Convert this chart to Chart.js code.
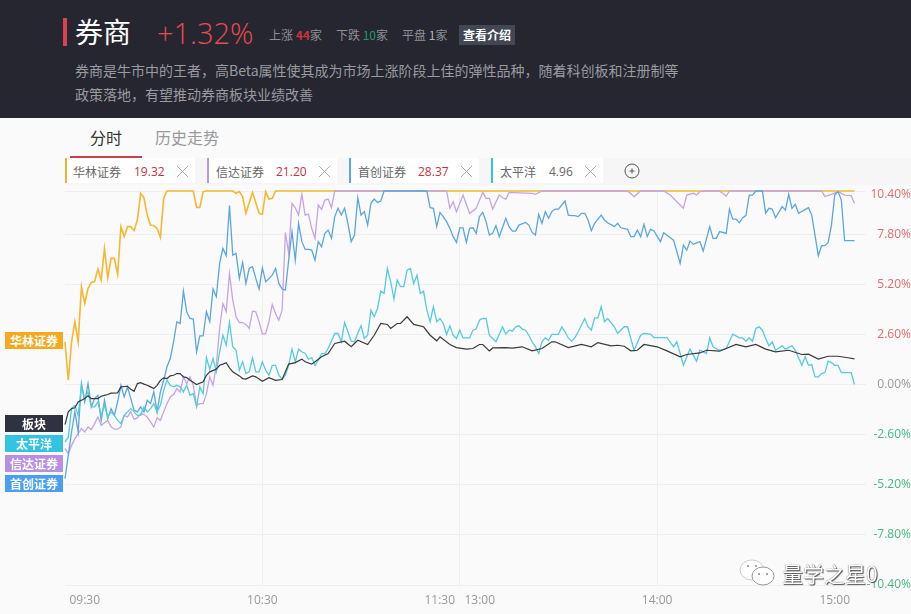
<!DOCTYPE html>
<html>
<head>
<meta charset="utf-8">
<script src="https://cdn.jsdelivr.net/npm/chart.js@4/dist/chart.umd.min.js"></script>
<style>
  html, body { margin: 0; padding: 0; }
  body { width: 911px; height: 614px; overflow: hidden; position: relative; background: #fafafa; font-family: "Noto Sans CJK SC", "Noto Sans", sans-serif; }
  .abs { position: absolute; white-space: nowrap; }
  #head { left: 0; top: 0; width: 911px; height: 118px; background: #252630; }
  #chart { position: absolute; left: 0; top: 0; }
  .tag { position: absolute; top: 158px; height: 25px; line-height: 27px; background: #fff; box-sizing: border-box; border-left: 2px solid; font-size: 12px; color: #666; white-space: nowrap; }
  .tag b { position: absolute; top: 0; font-weight: normal; color: #c9303e; font-family: "Open Sans"; }
  .tag svg { position: absolute; top: 7px; }
  .side { position: absolute; left: 5px; width: 58px; height: 17px; line-height: 17px; text-align: center; color: #fff; font-size: 12px; font-weight: 700; }
</style>
</head>
<body>
<div class="abs" id="head"></div>
<div class="abs" style="left:63px;top:18px;width:4px;height:28px;background:#d9434f"></div>
<div class="abs" style="left:75px;top:10px;font-size:28px;line-height:42px;color:#fff">券商</div>
<div class="abs" style="left:157px;top:12px;font-size:29px;line-height:42px;color:#ea4a50;font-family:'Open Sans';font-weight:300">+1.32%</div>
<div class="abs" style="left:269px;top:26px;font-size:12px;line-height:18px;color:#8f8f96">上涨 <span style="color:#d0303c;font-weight:700">44</span>家</div>
<div class="abs" style="left:336px;top:26px;font-size:12px;line-height:18px;color:#8f8f96">下跌 <span style="color:#1f9a66">10</span>家</div>
<div class="abs" style="left:402px;top:26px;font-size:12px;line-height:18px;color:#8f8f96">平盘 <span style="color:#b5b5b5">1</span>家</div>
<div class="abs" style="left:459px;top:25px;width:56px;height:20px;line-height:20px;text-align:center;background:#434654;color:#fff;font-size:12px;font-weight:700">查看介绍</div>
<div class="abs" style="left:75px;top:58px;font-size:14px;line-height:24px;color:#9a9a9f">券商是牛市中的王者，高Beta属性使其成为市场上涨阶段上佳的弹性品种，随着科创板和注册制等<br>政策落地，有望推动券商板块业绩改善</div>

<div class="abs" style="left:90px;top:125px;font-size:16px;line-height:24px;color:#333">分时</div>
<div class="abs" style="left:155px;top:125px;font-size:16px;line-height:24px;color:#999">历史走势</div>
<div class="abs" style="left:70px;top:156px;width:72px;height:2px;background:#c9404c"></div>
<div class="abs" style="left:65px;top:158px;width:846px;height:27px;background:#f6f6f6"></div>

<div class="tag" style="left:65px;width:130px;border-color:#f0b429"><span style="margin-left:6px">华林证券</span><b style="left:67px">19.32</b><svg style="left:109px" width="13" height="13"><path d="M1 1L12 12M12 1L1 12" stroke="#aaa" fill="none"/></svg></div>
<div class="tag" style="left:207px;width:130px;border-color:#b99ad8"><span style="margin-left:7px">信达证券</span><b style="left:67px">21.20</b><svg style="left:109px" width="13" height="13"><path d="M1 1L12 12M12 1L1 12" stroke="#aaa" fill="none"/></svg></div>
<div class="tag" style="left:349px;width:130px;border-color:#5aa7e0"><span style="margin-left:7px">首创证券</span><b style="left:67px">28.37</b><svg style="left:109px" width="13" height="13"><path d="M1 1L12 12M12 1L1 12" stroke="#aaa" fill="none"/></svg></div>
<div class="tag" style="left:491px;width:112px;border-color:#35c3dc"><span style="margin-left:7px">太平洋</span><b style="left:56px;color:#666">4.96</b><svg style="left:91px" width="13" height="13"><path d="M1 1L12 12M12 1L1 12" stroke="#aaa" fill="none"/></svg></div>
<svg class="abs" style="left:624px;top:163px" width="16" height="16"><circle cx="8" cy="8" r="7" fill="none" stroke="#555"/><path d="M5.5 8H10.5M8 5.5V10.5" stroke="#555"/></svg>

<canvas id="chart" width="911" height="614"></canvas>

<div class="side" style="top:332px;background:#f5a91f">华林证券</div>
<div class="side" style="top:415px;background:#2f3241">板块</div>
<div class="side" style="top:435px;background:#34c3e0">太平洋</div>
<div class="side" style="top:455px;background:#b88fe3">信达证券</div>
<div class="side" style="top:475px;background:#4b9ff0">首创证券</div>

<svg class="abs" style="left:739px;top:558px" width="38" height="30">
  <ellipse cx="13" cy="12" rx="12" ry="10" fill="#fff" stroke="#ccc"/>
  <ellipse cx="24" cy="18" rx="11" ry="9" fill="#fff" stroke="#999"/>
  <circle cx="9" cy="8" r="1" fill="#888"/><circle cx="17" cy="8" r="1" fill="#888"/>
  <circle cx="20" cy="16" r="1" fill="#888"/><circle cx="28" cy="16" r="1" fill="#888"/>
</svg>
<div class="abs" style="left:782px;top:558px;font-size:21px;line-height:30px;color:#fff;text-shadow:0 0 1px #333,1px 1px 1px #555">量学之星0</div>

<script>
// minutes since 09:30 (lunch break removed), values in percent
const xTickValues = [6, 60, 120, 180, 234];
const xTickLabels = ["09:30", "10:30", "11:30   13:00", "14:00", "15:00"];
const yTickValues = [10.06, 9.9, 7.8, 5.2, 2.6, 0, -2.6, -5.2, -7.8, -10.4];
const yTickLabels = ["", "10.40%", "7.80%", "5.20%", "2.60%", "0.00%", "-2.60%", "-5.20%", "-7.80%", "-10.40%"];

const huaTimes = [0,1,2,3,4,5,6,7,8,9,10,11,12,13,14,15,16,17,18,19,20,21,22,23,24,25,26,27,28,29,30,31,39,40,41,42,43,51,52,53,54,55,57,59,60,61,62,63,64,240];
const huaValues = [2.23,0.23,2.23,3.27,2.23,5.09,4.22,5,5.31,5.35,6,5.43,7.08,5.55,6.56,6.56,5.73,8.21,7.69,8.21,8.21,8,8.55,9.94,9.71,8.81,8.29,8.26,8.12,7.65,9.68,10.06,10.06,9.21,9.21,10.03,10.06,10.06,9.94,10.03,9.77,8.9,9.99,8.9,8.85,10.03,9.64,9.68,10.06,10.06];

const xinTimes = [0,1,2,3,4,5,6,7,8,9,10,11,12,13,14,15,16,17,18,19,20,21,22,23,24,25,26,27,28,29,30,31,32,33,34,35,36,37,38,39,40,41,42,43,44,45,46,47,48,49,50,51,52,53,54,55,56,57,58,59,60,61,62,63,64,65,66,67,68,69,70,71,72,73,74,75,76,77,78,79,80,81,82,116,117,118,119,121,123,125,127,128,129,130,132,133,134,135,142,143,145,171,173,175,182,184,186,188,189,191,192,193,195,199,201,202,230,231,233,235,237,239,240];
const xinValues = [-3.32,-3.58,-3.15,-2.8,-2.54,-2.28,-2.45,-2.19,-2.33,-2.02,-1.67,-2.11,-1.97,-1.85,-2.19,-2.31,-2.31,-2.19,-1.59,-1.67,-1.41,-1.79,-1.72,-1.5,-1.55,-1.67,-1.93,-2.19,-1.72,-1.85,-1.41,-0.98,-0.63,-0.51,-0.2,-0.37,0.41,0.06,0.41,-0.03,-1.07,-0.98,-0.98,-0.46,0.41,-0.03,1.01,2.92,4.22,3.79,5.78,4.39,3.53,3.23,3.23,3.13,2.92,3.82,3.79,3.27,2.63,2.66,3.27,4.17,3.7,3.35,3.87,7.91,6.82,9.42,9.19,8.81,9.89,8.81,8.86,8.12,7.6,9.33,9.11,9.59,9.64,9.19,10.06,10.06,9.16,9.5,8.98,9.85,8.9,9.16,9.99,9.68,9.68,9.12,9.85,9.71,9.64,9.99,9.94,9.89,10.06,10.06,9.77,10.06,10.06,9.85,9.5,9.16,9.85,9.94,9.85,10.03,10.06,10.06,9.8,10.06,10.06,9.77,9.89,10.03,9.85,9.82,9.42];

const shouTimes = [0,1,2,3,4,5,6,7,8,9,10,11,12,13,14,15,16,17,18,19,20,21,22,23,24,25,26,27,28,29,30,31,32,33,34,35,36,37,38,39,40,41,42,43,44,45,46,47,48,49,50,51,52,53,54,55,56,57,58,59,60,61,62,63,64,65,66,67,68,69,70,71,72,73,74,75,76,77,78,79,80,81,82,83,84,85,86,87,88,89,90,91,92,93,94,95,96,97,110,111,112,113,114,115,116,117,118,119,120,121,122,123,124,125,126,127,128,129,130,131,132,134,135,136,137,138,140,141,142,143,144,145,146,147,148,149,150,152,153,154,155,156,157,158,159,160,161,163,164,165,167,168,169,171,172,173,174,175,176,177,178,179,181,182,185,187,188,189,190,191,193,194,196,197,198,199,201,202,203,204,205,206,207,208,209,210,212,213,214,215,216,218,219,220,221,222,223,226,227,229,230,231,232,233,234,235,236,237,240];
const shouValues = [-4.88,-3.67,-2.45,-1.41,-2.45,0.06,-0.89,0.06,-1.15,-0.72,-0.55,-1.85,-0.81,-1.76,-1.24,-1.59,-0.89,-0.03,-0.63,-0.11,-0.72,-1.33,-1.41,-1.15,-1.41,-0.81,-0.98,-0.37,-1.41,-0.37,0.23,0.93,1.36,2.23,3.27,3.18,4.86,3.79,3.44,3.41,1.71,2.54,2.54,3.79,3.27,4.97,4.57,6.3,7.08,6.7,9.3,6.73,6.82,5.52,6.35,5.26,6.04,6.13,5.52,4.97,6.07,5.35,5.52,5.69,6.04,5.26,4.97,4.91,6.47,7.95,6.47,8.38,7.43,7.03,7.03,6.99,6.47,7.43,7.17,7.86,8.03,7.6,8.73,9.16,8.81,9.16,8.38,7.43,7.77,9.71,8.81,8.99,8.29,9.42,9.64,9.47,9.54,10.06,10.06,9.19,9.16,8.21,8.95,8.73,8.47,8.12,7.69,7.39,8.15,8.15,7.39,8.12,8.15,7.86,8.73,8.95,8.47,7.77,7.86,8.26,7.69,8.64,8.21,7.98,7.98,8.29,8.43,8.29,7.91,7.77,8.85,8.38,8.99,8.64,8.99,9.12,9.12,9.54,8.81,8.78,8.78,8.73,8.9,8.9,8.55,8,8.38,8.81,8.55,8.41,8.21,8.38,8.15,8.07,7.69,7.69,8.03,7.69,8.33,7.69,8.07,8,7.43,7.89,7.51,6.3,7.25,6.99,7.46,7.29,7.43,6.94,8.21,7.6,7.6,7.95,7.86,9.12,8.6,8.6,8.41,8.67,8.78,9.85,9.85,10.06,10.06,8.9,9.16,9.12,8.67,9.25,9.07,9.89,9.16,9.37,8.9,9.19,8.81,6.7,7.22,7.22,7.39,8.29,9.85,10.03,9.59,7.48,7.48];

const taiTimes = [0,1,2,3,4,5,6,7,8,9,10,11,12,13,14,15,16,17,18,19,20,21,22,23,24,25,26,27,28,29,30,31,32,33,34,35,36,37,38,39,40,41,42,43,44,45,46,47,48,49,50,51,52,53,54,55,56,57,58,59,60,61,62,63,64,65,66,67,68,69,70,71,72,73,74,75,76,77,78,79,80,81,82,83,84,85,86,87,88,89,90,91,92,93,94,95,96,97,98,99,100,101,102,103,104,105,106,107,108,109,110,111,112,113,114,115,116,117,118,119,120,121,122,123,124,125,126,127,128,129,130,131,133,134,135,136,137,138,139,140,141,142,143,144,145,146,147,148,149,150,151,152,153,154,155,156,158,159,160,161,162,163,164,165,167,168,170,171,173,175,176,178,179,183,185,186,188,190,192,193,195,196,197,199,201,203,205,206,207,208,209,210,211,212,213,214,215,216,218,219,221,222,224,225,226,227,228,229,230,231,232,233,234,235,236,239,240];
const taiValues = [-2.97,-2.71,-1.24,-1.07,-1.59,-0.03,-0.72,-0.37,-1.15,-1.15,-0.89,-1.59,-1.07,-1.67,-1.41,-1.59,-1.85,-2.02,-1.59,-1.41,-1.24,-1.41,-1.59,-1.59,-1.15,-1.41,-1.24,-0.98,-1.41,-1.07,-0.29,0.23,-0.03,-0.11,-0.03,-0.11,-0.37,-0.03,-0.55,-0.46,-1.15,-0.11,-0.46,1.4,0.81,1.36,0.67,1.71,2.57,2.05,3.23,1.97,1.79,0.75,1.19,0.58,0.67,1.4,0.67,0.67,1.19,0.75,0.49,1.01,1.01,0.49,0.29,0.49,1.01,1.85,1.19,1.85,1.71,1.62,1.33,1.4,1.01,1.27,1.62,1.62,1.88,2.26,2.66,2.66,2.23,3.23,2.75,2.26,2.23,2.66,3.06,2.4,2.57,3.87,3.53,3.96,4.86,4.74,6.04,5.35,4.45,5.43,5.09,5.09,5.95,6.04,5.26,5.69,4.74,4.86,3.87,3.27,4.05,3.27,3.44,3.18,2.61,3.06,2.57,2.4,2.83,2.43,2.43,2.43,2.83,2.89,3.35,3.44,3.44,2.57,2.4,2.23,3.01,2.63,2.83,2.78,3.01,3.06,2.89,2.83,2.57,2.23,1.97,1.62,2.23,2.43,2.31,2.61,2.61,2.61,3.01,2.75,2.43,2.26,2.43,2.75,3.44,3.01,2.83,3.47,3.47,4.05,3.27,3.44,3.01,2.66,3.01,3.01,1.79,2.57,2.66,2.63,2.45,2.45,1.97,2.23,1.01,1.85,1.22,1.79,1.62,2.43,1.97,1.79,1.88,2.63,2.43,2.43,2.26,2.43,2.26,2.92,3.01,2.83,2.4,2.02,2.23,1.79,2.02,1.85,2.02,1.79,1.01,1.45,1.01,1.05,0.41,0.41,0.58,0.63,1.22,1.15,1.01,1.01,0.63,0.63,0.01];

const sectorTimes = [0,1,2,3,4,5,6,7,8,10,11,12,13,14,16,17,19,20,21,22,23,24,25,26,27,28,29,30,31,32,33,34,35,36,37,38,40,42,43,44,46,47,48,49,50,51,53,54,55,57,58,60,62,64,66,67,68,70,72,73,75,76,78,80,82,85,87,89,92,94,96,98,99,101,102,104,106,109,111,113,114,117,119,122,124,126,127,129,130,134,136,139,142,145,148,149,153,157,160,162,166,168,170,172,174,176,180,183,187,189,193,195,199,204,207,210,213,216,220,224,226,229,232,235,238,240];
const sectorValues = [-2.07,-1.41,-1.24,-1.2,-0.89,-0.81,-0.72,-0.58,-0.72,-0.72,-0.6,-0.55,-0.51,-0.44,-0.42,-0.11,-0.08,-0.23,-0.34,0.06,0.11,0.03,-0.03,-0.11,-0.2,-0.03,0.23,0.36,0.32,0.46,0.49,0.58,0.58,0.41,0.37,0.23,0.01,0.15,0.49,0.67,0.81,1.01,1.07,1.14,0.88,0.67,0.46,0.32,0.29,0.46,0.41,0.18,0.37,0.23,0.27,0.67,1.07,1.15,1.33,1.19,1.07,1.19,1.45,1.62,2.14,2.26,1.97,2.31,2.09,2.57,3.18,3.13,2.92,3.18,3.18,3.53,3.13,3.01,2.57,2.28,2.49,2.09,1.93,1.85,1.88,2.09,2.09,1.76,1.91,1.93,1.9,1.97,1.76,1.88,2.23,2.23,1.93,2.09,1.97,2.19,2.02,2.05,2,1.76,1.79,2.09,1.97,1.76,1.45,1.57,1.65,1.79,1.74,2.09,1.97,2.09,1.85,1.71,1.79,1.57,1.59,1.33,1.48,1.48,1.4,1.34];

function points(times, values) {
    return times.map((t, i) => ({ x: t, y: values[i] }));
}

function lineSet(label, times, values, color, width) {
    return {
        label: label,
        data: points(times, values),
        borderColor: color,
        borderWidth: width,
        pointRadius: 0,
        tension: 0,
        clip: 2
    };
}

new Chart(document.getElementById("chart").getContext("2d"), {
    type: "line",
    data: {
        datasets: [
            lineSet("板块", sectorTimes, sectorValues, "#3a3a3a", 1.2),
            lineSet("太平洋", taiTimes, taiValues, "#55cbe0", 1.3),
            lineSet("首创证券", shouTimes, shouValues, "#5aa7e0", 1.3),
            lineSet("信达证券", xinTimes, xinValues, "#c6a4e4", 1.3),
            lineSet("华林证券", huaTimes, huaValues, "#f5b82e", 1.6)
        ]
    },
    options: {
        responsive: false,
        animation: false,
        devicePixelRatio: 1,
        layout: { padding: { left: 65, top: 191, right: 0, bottom: 0 } },
        plugins: { legend: { display: false }, tooltip: { enabled: false } },
        scales: {
            x: {
                type: "linear",
                min: 0,
                max: 243.5,
                afterBuildTicks: axis => { axis.ticks = xTickValues.map(v => ({ value: v })); },
                afterFit: axis => { axis.height = 29; },
                border: { display: false },
                grid: {
                    drawTicks: false,
                    color: ctx => (ctx.tick && (ctx.tick.value === 60 || ctx.tick.value === 120 || ctx.tick.value === 180)) ? "#eeeeee" : "rgba(0,0,0,0)"
                },
                ticks: {
                    autoSkip: false,
                    maxRotation: 0,
                    padding: 8,
                    color: "#999",
                    font: { family: "'Open Sans'", size: 12 },
                    callback: v => xTickLabels[xTickValues.indexOf(v)]
                }
            },
            y: {
                position: "right",
                min: -10.4,
                max: 10.06,
                afterBuildTicks: axis => { axis.ticks = yTickValues.map(v => ({ value: v })); },
                afterFit: axis => { axis.width = 45; },
                border: { display: false },
                grid: {
                    drawTicks: false,
                    color: ctx => (ctx.tick && ctx.tick.value === 9.9) ? "rgba(0,0,0,0)" : "#eeeeee"
                },
                ticks: {
                    autoSkip: false,
                    crossAlign: "far",
                    padding: -13,
                    color: ctx => ctx.tick.value > 0 ? "#e06c6c" : (ctx.tick.value < 0 ? "#43b987" : "#999"),
                    font: { family: "'Open Sans'", size: 12 },
                    callback: v => yTickLabels[yTickValues.indexOf(v)]
                }
            }
        }
    }
});
</script>
</body>
</html>
